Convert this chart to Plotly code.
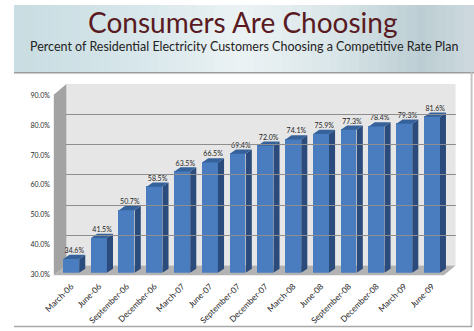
import plotly.graph_objects as go

# ---------------- data ----------------
categories = ["March-06", "June-06", "September-06", "December-06", "March-07", "June-07",
              "September-07", "December-07", "March-08", "June-08", "September-08",
              "December-08", "March-09", "June-09"]
values = [34.6, 41.5, 50.7, 58.5, 63.5, 66.5, 69.4, 72.0, 74.1, 75.9, 77.3, 78.4, 79.3, 81.6]
y_ticks = [30, 40, 50, 60, 70, 80, 90]
title_text = "Consumers Are Choosing"
subtitle_text = "Percent of Residential Electricity Customers Choosing a Competitive Rate Plan"

# ---------------- geometry helpers ----------------
W, H = 474, 331
def fx(x): return x / W
def fy(y): return (H - y) / H
def ppath(pts):
    s = "M " + " L ".join(f"{fx(x):.5f},{fy(y):.5f}" for x, y in pts) + " Z"
    return s

FONT = "Lato, 'Open Sans', sans-serif"
BAR_W = 0.57
DX = 0.22    # depth offset in category units
DY = 1.4     # depth offset in % units
BASE = 30

xs = list(range(len(categories)))

fig = go.Figure()

# front faces
fig.add_trace(go.Bar(
    x=xs, y=[v - BASE for v in values], base=BASE, width=BAR_W,
    marker=dict(color="#4a7dbf", line=dict(width=0)),
    xaxis="x", yaxis="y2", hoverinfo="skip", showlegend=False))

# side faces and top faces computed from the values
sx, sy, tx, ty = [], [], [], []
for i, v in zip(xs, values):
    r = i + BAR_W / 2
    l = i - BAR_W / 2
    sx += [r, r + DX, r + DX, r, r, None]
    sy += [BASE, BASE + DY, v + DY, v, BASE, None]
    tx += [l, l + DX, r + DX, r, l, None]
    ty += [v, v + DY, v + DY, v, v, None]
fig.add_trace(go.Scatter(x=sx, y=sy, fill="toself", mode="lines", line=dict(width=0, color="#2a4b7c"),
                         fillcolor="#2a4b7c", xaxis="x", yaxis="y2", hoverinfo="skip", showlegend=False))
fig.add_trace(go.Scatter(x=tx, y=ty, fill="toself", mode="lines", line=dict(width=0, color="#36629c"),
                         fillcolor="#36629c", xaxis="x", yaxis="y2", hoverinfo="skip", showlegend=False))

# data labels
fig.add_trace(go.Scatter(
    x=[i + DX / 2 for i in xs], y=[v + DY for v in values], mode="text",
    text=[f"{v:.1f}%" for v in values], textposition="top center",
    textfont=dict(family=FONT, size=7, color="#1e1e1e"),
    xaxis="x", yaxis="y2", hoverinfo="skip", showlegend=False))

# invisible traces so the tick-label axis and back-wall grid axes are drawn
fig.add_trace(go.Scatter(x=[0], y=[BASE], mode="markers", marker=dict(opacity=0),
                         xaxis="x", yaxis="y", hoverinfo="skip", showlegend=False))
fig.add_trace(go.Scatter(x=[0], y=[BASE], mode="markers", marker=dict(opacity=0),
                         xaxis="x3", yaxis="y3", hoverinfo="skip", showlegend=False))

shapes = []
# banner gradient strips
stops = [(0, (201, 221, 226)), (120, (214, 230, 234)), (237, (236, 243, 245)),
         (330, (218, 230, 233)), (420, (188, 206, 212)), (474, (206, 218, 222))]
n = 48
for k in range(n):
    x0 = W * k / n
    x1 = W * (k + 1) / n
    xm = (x0 + x1) / 2
    for (a, ca), (b, cb) in zip(stops[:-1], stops[1:]):
        if a <= xm <= b:
            t = (xm - a) / (b - a)
            c = tuple(int(ca[j] + (cb[j] - ca[j]) * t) for j in range(3))
            break
    shapes.append(dict(type="rect", xref="paper", yref="paper", x0=fx(x0), x1=fx(x1) + 0.002,
                       y0=fy(69), y1=1, fillcolor=f"rgb{c}", line=dict(width=0), layer="below"))
# white panel with frame
shapes.append(dict(type="rect", xref="paper", yref="paper", x0=0, x1=fx(471), y0=fy(329), y1=fy(69),
                   fillcolor="white", line=dict(width=0), layer="below"))
shapes.append(dict(type="line", xref="paper", yref="paper", x0=0, x1=1, y0=fy(69.5), y1=fy(69.5),
                   line=dict(color="#9c9c9c", width=1.5), layer="below"))
shapes.append(dict(type="line", xref="paper", yref="paper", x0=fx(471.5), x1=fx(471.5), y0=fy(329), y1=fy(69),
                   line=dict(color="#c4c4c4", width=2), layer="below"))
shapes.append(dict(type="line", xref="paper", yref="paper", x0=0, x1=fx(472), y0=fy(329.5), y1=fy(329.5),
                   line=dict(color="#a8a8a8", width=1.5), layer="below"))
# back wall, left wall, floor
shapes.append(dict(type="path", xref="paper", yref="paper",
                   path=ppath([(54, 81), (455, 81), (455, 267), (54, 267)]),
                   fillcolor="#e6e6e6", line=dict(width=0), layer="below"))
shapes.append(dict(type="path", xref="paper", yref="paper",
                   path=ppath([(41, 92), (54, 81), (54, 267), (41, 277)]),
                   fillcolor="#a3a3a3", line=dict(width=0), layer="below"))
shapes.append(dict(type="path", xref="paper", yref="paper",
                   path=ppath([(41, 277), (54, 267), (455, 267), (443, 277)]),
                   fillcolor="#b3b3b3", line=dict(width=0), layer="below"))

fig.update_layout(
    width=W, height=H, margin=dict(l=0, r=0, t=0, b=0),
    paper_bgcolor="white", plot_bgcolor="rgba(0,0,0,0)",
    showlegend=False, bargap=0,
    shapes=shapes,
    xaxis=dict(domain=[fx(44.7), fx(445.1)], range=[-0.5, len(categories) - 0.5],
               tickvals=xs, ticktext=categories, tickangle=-45,
               tickfont=dict(family=FONT, size=8.3, color="#1e1e1e"),
               showgrid=False, zeroline=False, showline=False, ticks="", anchor="y",
               ticklabelstandoff=4),
    yaxis=dict(domain=[fy(276.7), fy(92.3)], range=[30, 90], tickvals=y_ticks,
               ticktext=[f"{t:.1f}%" for t in y_ticks],
               tickfont=dict(family=FONT, size=7, color="#2a2a2a"),
               showgrid=False, zeroline=False, showline=False, ticks="",
               anchor="free", position=fx(37)),
    yaxis2=dict(domain=[fy(274.5), fy(88.5)], range=[30, 90], visible=False, anchor="x"),
    xaxis3=dict(domain=[fx(54), fx(455)], range=[0, 1], visible=False, anchor="y3"),
    yaxis3=dict(domain=[fy(267), fy(81)], range=[30, 90], tickvals=y_ticks, showticklabels=False,
                showgrid=True, gridcolor="#8e8e8e", gridwidth=1, zeroline=False, showline=False,
                ticks="", anchor="x3"),
    annotations=[
        dict(text=title_text, xref="paper", yref="paper", x=fx(236), y=fy(17), showarrow=False,
             font=dict(family=FONT, size=28, color="#5a1a22"), xanchor="center", yanchor="middle"),
        dict(text=subtitle_text, xref="paper", yref="paper", x=fx(237), y=fy(43), showarrow=False,
             font=dict(family=FONT, size=12.5, color="#232323"), xanchor="center", yanchor="middle"),
    ],
)

fig.write_html("out.html")
